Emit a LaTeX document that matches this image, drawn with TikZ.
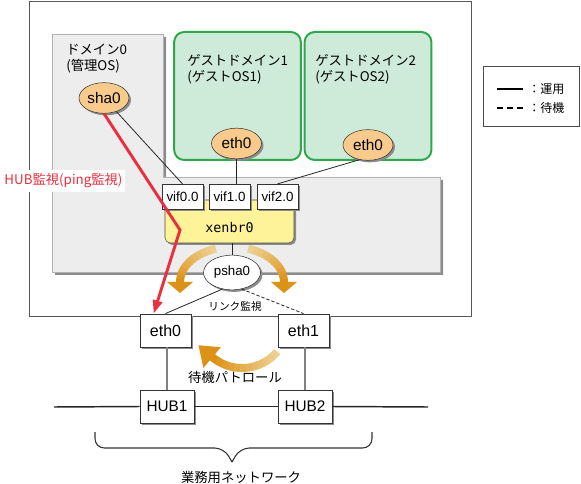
\documentclass[tikz,border=0pt]{standalone}
\usepackage{fontspec}
\setmainfont{Liberation Sans}
\newfontfamily\jp{Noto Sans CJK JP}
\newfontfamily\mono{DejaVu Sans Mono}
\usetikzlibrary{shapes.geometric, arrows.meta, shadows, calc}

\definecolor{domgray}{RGB}{237,237,237}
\definecolor{guestfill}{RGB}{205,235,216}
\definecolor{guestline}{RGB}{45,168,74}
\definecolor{nicfill}{RGB}{248,202,140}
\definecolor{brfill}{RGB}{255,243,154}
\definecolor{hubred}{RGB}{232,48,64}
\definecolor{orgLight}{RGB}{238,208,146}
\definecolor{orgDark}{RGB}{220,146,22}

\begin{document}
\begin{tikzpicture}[x=0.75pt, y=-0.75pt,
    boxshadow/.style={drop shadow={shadow xshift=1.5pt, shadow yshift=-1.5pt, fill=black!45, opacity=1}},
    guestbox/.style={rectangle, rounded corners=7.5pt, draw=guestline, line width=1.5pt, fill=guestfill, minimum width=95pt, minimum height=96pt},
    title/.style={anchor=north west, inner sep=0pt, align=left, font=\jp\fontsize{10}{12}\selectfont},
    iface/.style={ellipse, draw=black!80, fill=nicfill, minimum width=37.5pt, minimum height=23pt, inner sep=0pt, font=\fontsize{11.5}{13}\selectfont, boxshadow},
    vif/.style={rectangle, draw=black!80, fill=white, minimum width=30.5pt, minimum height=18.5pt, inner sep=0pt, font=\fontsize{10}{12}\selectfont, boxshadow},
    port/.style={rectangle, draw=black!80, fill=white, minimum width=38pt, minimum height=25pt, inner sep=0pt, font=\fontsize{12}{14}\selectfont, boxshadow},
    hub/.style={port, minimum width=40.5pt, font=\fontsize{11.5}{13}\selectfont},
    link/.style={draw=black!85, line width=0.6pt},
    patrol/.style={line width=6pt},
    jptext/.style={inner sep=0pt, font=\jp\fontsize{10}{12}\selectfont}
]
    \useasboundingbox (0,0) rectangle (581,484);

    % Host frame
    \draw[black!65, line width=0.7pt] (29,1) rectangle (471,316);

    % Domain-0 area with bridge
    \draw[black!30, fill=domgray, drop shadow={shadow xshift=2.25pt, shadow yshift=-2.25pt, fill=black!45, opacity=1}]
        (52,34) -- (163,34) -- (163,177) -- (440,177) -- (440,272) -- (52,272) -- cycle;
    \node[title] (domzlbl) at (66,44) {ドメイン0\\(管理OS)};

    % Guest domains
    \node[guestbox] (guestA) at (237.5,96) {};
    \node[title] (guestAlbl) at (187,54) {ゲストドメイン1\\(ゲストOS1)};
    \node[guestbox] (guestB) at (368,96) {};
    \node[title] (guestBlbl) at (315,54) {ゲストドメイン2\\(ゲストOS2)};

    % Hand-over arrows round psha0
    \coordinate (swing) at (232,282);
    \coordinate (swingL) at (180,282);
    \coordinate (swingR) at (284,282);
    \foreach \i in {0,...,11} {
        \pgfmathtruncatemacro\mix{100*\i/11}
        \draw[patrol, draw=orgDark!\mix!orgLight] (swing) ++({-108-6*\i}:52 and 35)
            arc[start angle={-108-6*\i}, end angle={-114.5-6*\i}, x radius=52, y radius=35];
        \draw[patrol, draw=orgDark!\mix!orgLight] (swing) ++({-72+6*\i}:52 and 35)
            arc[start angle={-72+6*\i}, end angle={-65.5+6*\i}, x radius=52, y radius=35];
    }
    \fill[orgDark] ($(swingL)+(-13,0)$) -- ++(26,0) -- ++(-13,11) -- cycle;
    \fill[orgDark] ($(swingR)+(-13,0)$) -- ++(26,0) -- ++(-13,11) -- cycle;

    % Bridge and its ports
    \node[rectangle, rounded corners=4pt, draw=black!70, fill=brfill, minimum width=96.75pt, minimum height=32.25pt, boxshadow] (xenbr) at (229.5,221.5) {};
    \node[font=\mono\fontsize{10}{12}\selectfont] (xenbrlbl) at (229.5,228) {xenbr0};
    \node[vif] (vifA) at (182.5,196.5) {vif0.0};
    \node[vif] (vifB) at (229.5,196.5) {vif1.0};
    \node[vif] (vifC) at (277.5,196.5) {vif2.0};

    % Virtual interfaces
    \node[iface] (sha0) at (104,98) {sha0};
    \node[iface] (gethA) at (236.5,143.5) {eth0};
    \node[iface] (gethB) at (368,145) {eth0};
    \node[iface, fill=white, minimum width=42.75pt, minimum height=26pt, font=\fontsize{10}{12}\selectfont] (psha) at (232,272.5) {psha0};

    % Physical NICs and hubs
    \node[port] (pethA) at (165.5,330.5) {eth0};
    \node[port] (pethB) at (303.5,330.5) {eth1};
    \node[hub] (hubA) at (167,406.5) {HUB1};
    \node[hub] (hubB) at (305,406.5) {HUB2};

    % Connections
    \draw[link] (sha0) -- (vifA.north);
    \draw[link] (gethA.south) -- (gethA.south |- vifB.north);
    \draw[link] (gethB.240) -- (vifC.north);
    \draw[link] (psha.north) -- (psha.north |- xenbr.south);
    \draw[link] (psha.240) -- (pethA.north);
    \draw[link, dash pattern=on 2.5pt off 1.5pt] (psha.300) -- (pethB.north);
    \draw[black!50, line width=1.1pt] (pethA.south -| hubA.north) -- (hubA.north);
    \draw[black!50, line width=1.1pt] (pethB.south -| hubB.north) -- (hubB.north);
    \node[jptext, font=\jp\fontsize{8}{10}\selectfont] (linklbl) at (235,306) {リンク監視};

    % Business network
    \coordinate (netL) at (54,407);
    \coordinate (netR) at (428,407);
    \draw[black!85, line width=1.1pt] (netL) -- (hubA.west);
    \draw[black!85, line width=1.1pt] (hubA.east) -- (hubB.west);
    \draw[black!85, line width=1.1pt] (hubB.east) -- (netR);

    % Standby patrol arrow
    \coordinate (patrolc) at (242,322);
    \coordinate (patrolEnd) at ($(patrolc)+(130:46)$);
    \foreach \i in {0,...,11} {
        \pgfmathtruncatemacro\mix{100*\i/11}
        \draw[patrol, draw=orgDark!\mix!orgLight] (patrolc) ++({40+7.5*\i}:46)
            arc[start angle={40+7.5*\i}, end angle={48+7.5*\i}, radius=46];
    }
    \fill[orgDark] ($(patrolc)+(130:33)$) -- ($(patrolc)+(130:60)$) -- ($(patrolEnd)+(-14,-12)$) -- cycle;
    \node[jptext] (patrollbl) at (235,377) {待機パトロール};

    % HUB monitoring
    \coordinate (redbend) at (180,230);
    \draw[hubred, line width=2.2pt, -{Triangle[length=10pt, width=7pt]}] (sha0.south) -- (redbend) -- (pethA.125);
    \node[jptext, fill=white, inner xsep=2pt, inner ysep=3pt, text=hubred] (hublbl) at (63.5,181) {HUB監視(ping監視)};

    % Brace
    \draw[black!80, line width=0.8pt, rounded corners=7pt] (95,432) -- (95,448) -- (224,448) -- (232,462);
    \draw[black!80, line width=0.8pt, rounded corners=7pt] (372,432) -- (372,448) -- (240,448) -- (232,462);
    \node[jptext] (netlbl) at (241,477) {業務用ネットワーク};

    % Legend
    \node[draw=black!70, line width=0.8pt, minimum width=71.5pt, minimum height=45.5pt, inner sep=0pt] (legend) at (531.5,96.5) {};
    \coordinate (solidA) at (497,89);
    \coordinate (solidB) at (523,89);
    \coordinate (dashA) at (497,108);
    \coordinate (dashB) at (523,108);
    \draw[line width=1.2pt] (solidA) -- (solidB);
    \draw[line width=1.2pt, dash pattern=on 4.5pt off 3pt] (dashA) -- (dashB);
    \node[jptext, anchor=west, font=\jp\fontsize{9}{11}\selectfont] (solidlbl) at (528,89) {：運用};
    \node[jptext, anchor=west, font=\jp\fontsize{9}{11}\selectfont] (dashlbl) at (528,108) {：待機};
\end{tikzpicture}
\end{document}
